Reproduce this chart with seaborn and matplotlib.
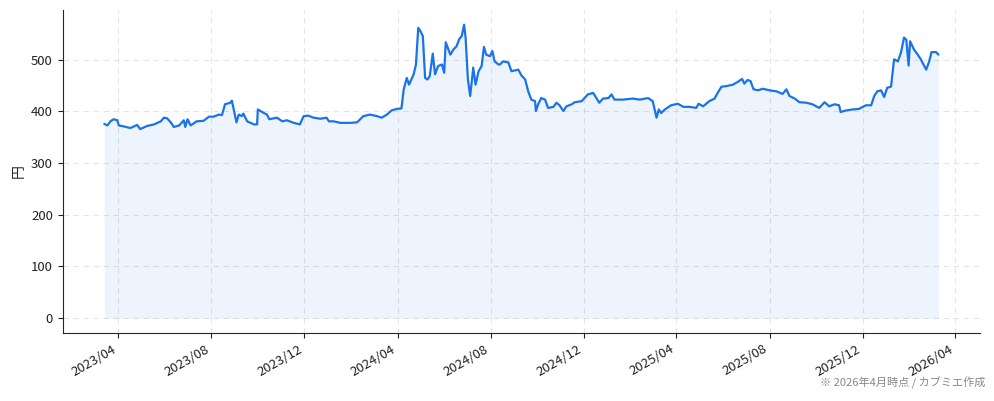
import pandas as pd
import numpy as np
import matplotlib
matplotlib.use("Agg")
import matplotlib.pyplot as plt
import matplotlib.dates as mdates
import seaborn as sns

# price data (date, yen)
dates = [
    "2023-03-14", "2023-03-18", "2023-03-22", "2023-03-26", "2023-03-31", "2023-04-02",
    "2023-04-09", "2023-04-17", "2023-04-26", "2023-04-30", "2023-05-09", "2023-05-18",
    "2023-05-27", "2023-05-31", "2023-06-04", "2023-06-09", "2023-06-13", "2023-06-20",
    "2023-06-26", "2023-06-28", "2023-07-01", "2023-07-05", "2023-07-13", "2023-07-22",
    "2023-07-29", "2023-08-04", "2023-08-11", "2023-08-15", "2023-08-19", "2023-08-26",
    "2023-08-28", "2023-08-30", "2023-09-03", "2023-09-06", "2023-09-10", "2023-09-12",
    "2023-09-17", "2023-09-26", "2023-09-30", "2023-10-01", "2023-10-09", "2023-10-13",
    "2023-10-16", "2023-10-26", "2023-11-02", "2023-11-08", "2023-11-17", "2023-11-25",
    "2023-11-30", "2023-12-06", "2023-12-13", "2023-12-22", "2023-12-30", "2024-01-02",
    "2024-01-08", "2024-01-17", "2024-01-30", "2024-02-08", "2024-02-16", "2024-02-25",
    "2024-03-05", "2024-03-11", "2024-03-18", "2024-03-24", "2024-03-31", "2024-04-06",
    "2024-04-09", "2024-04-13", "2024-04-16", "2024-04-22", "2024-04-25", "2024-04-28",
    "2024-05-01", "2024-05-04", "2024-05-07", "2024-05-10", "2024-05-13", "2024-05-17",
    "2024-05-20", "2024-05-24", "2024-05-29", "2024-06-01", "2024-06-03", "2024-06-09",
    "2024-06-13", "2024-06-17", "2024-06-21", "2024-06-24", "2024-06-27", "2024-06-29",
    "2024-07-02", "2024-07-05", "2024-07-09", "2024-07-12", "2024-07-16", "2024-07-20",
    "2024-07-23", "2024-07-26", "2024-07-31", "2024-08-03", "2024-08-06", "2024-08-11",
    "2024-08-13", "2024-08-17", "2024-08-24", "2024-08-28", "2024-09-06", "2024-09-10",
    "2024-09-15", "2024-09-19", "2024-09-23", "2024-09-28", "2024-09-29", "2024-10-02",
    "2024-10-06", "2024-10-11", "2024-10-15", "2024-10-22", "2024-10-26", "2024-10-30",
    "2024-11-04", "2024-11-08", "2024-11-15", "2024-11-19", "2024-11-28", "2024-12-06",
    "2024-12-13", "2024-12-21", "2024-12-26", "2025-01-02", "2025-01-06", "2025-01-10",
    "2025-01-21", "2025-02-03", "2025-02-12", "2025-02-23", "2025-03-01", "2025-03-04",
    "2025-03-06", "2025-03-09", "2025-03-12", "2025-03-17", "2025-03-25", "2025-04-03",
    "2025-04-10", "2025-04-18", "2025-04-27", "2025-04-30", "2025-05-06", "2025-05-14",
    "2025-05-21", "2025-05-25", "2025-05-30", "2025-06-05", "2025-06-14", "2025-06-20",
    "2025-06-26", "2025-06-29", "2025-07-03", "2025-07-07", "2025-07-11", "2025-07-17",
    "2025-07-23", "2025-08-01", "2025-08-10", "2025-08-18", "2025-08-23", "2025-08-27",
    "2025-09-03", "2025-09-09", "2025-09-18", "2025-09-26", "2025-10-05", "2025-10-12",
    "2025-10-18", "2025-10-25", "2025-10-31", "2025-11-02", "2025-11-09", "2025-11-18",
    "2025-11-26", "2025-12-05", "2025-12-12", "2025-12-16", "2025-12-20", "2025-12-25",
    "2025-12-29", "2026-01-02", "2026-01-07", "2026-01-11", "2026-01-16", "2026-01-20",
    "2026-01-24", "2026-01-27", "2026-01-30", "2026-02-01", "2026-02-06", "2026-02-11",
    "2026-02-15", "2026-02-22", "2026-02-26", "2026-03-01", "2026-03-07", "2026-03-10",
]
prices = [
    376, 373, 381, 385, 383, 373,
    371, 368, 374, 366, 372, 375,
    381, 388, 387, 379, 370, 373,
    383, 370, 385, 373, 381, 382,
    390, 390, 394, 393, 414, 417,
    421, 407, 379, 394, 391, 396,
    381, 375, 375, 404, 397, 394,
    385, 388, 381, 383, 378, 375,
    391, 392, 388, 386, 388, 381,
    381, 378, 378, 379, 391, 394,
    391, 388, 394, 402, 405, 406,
    443, 465, 452, 472, 491, 562,
    555, 546, 465, 462, 468, 512,
    472, 488, 491, 475, 534, 510,
    520, 526, 541, 546, 568, 543,
    462, 430, 485, 452, 478, 488,
    525, 510, 507, 517, 497, 491,
    491, 497, 495, 478, 481, 470,
    462, 439, 423, 420, 401, 414,
    426, 423, 407, 409, 417, 412,
    401, 410, 414, 418, 420, 433,
    436, 417, 425, 426, 433, 423,
    423, 425, 423, 426, 420, 401,
    388, 404, 397, 404, 412, 415,
    409, 409, 407, 415, 410, 420,
    425, 436, 448, 449, 452, 457,
    463, 454, 461, 459, 443, 441,
    444, 441, 439, 434, 443, 430,
    425, 418, 417, 414, 407, 418,
    410, 414, 412, 399, 402, 404,
    405, 412, 412, 430, 439, 441,
    428, 446, 448, 501, 497, 514,
    543, 539, 489, 536, 520, 510,
    501, 481, 497, 515, 515, 510,
]

df = pd.DataFrame({"date": pd.to_datetime(dates), "price": prices})

line_color = "#1a73e8"

sns.set_style("ticks")
plt.rcParams["font.family"] = ["Noto Sans CJK JP", "DejaVu Sans"]

fig = plt.figure(figsize=(9.94, 4.01), dpi=100)
ax = fig.add_axes([0.063, 0.17, 0.923, 0.805])

ax.fill_between(df["date"], df["price"], 0, color=line_color, alpha=0.08, linewidth=0)
sns.lineplot(data=df, x="date", y="price", ax=ax, color=line_color, linewidth=1.6)

ax.xaxis.set_major_locator(mdates.MonthLocator(bymonth=[4, 8, 12]))
ax.xaxis.set_major_formatter(mdates.DateFormatter("%Y/%m"))
ax.grid(True, linestyle=(0, (5, 4)), color="#d9d9d9", linewidth=0.8, alpha=0.7)
ax.set_xlabel("")
ax.set_ylabel("円", fontsize=10)
ax.tick_params(labelsize=9.5, colors="#222222")
for lbl in ax.get_xticklabels():
    lbl.set_rotation(30)
    lbl.set_ha("right")
sns.despine(ax=ax)

fig.text(0.991, 0.03, "※ 2026年4月時点 / カブミエ作成", ha="right", va="bottom",
         fontsize=8, color="#888888")

fig.savefig("out.png", dpi=100)
